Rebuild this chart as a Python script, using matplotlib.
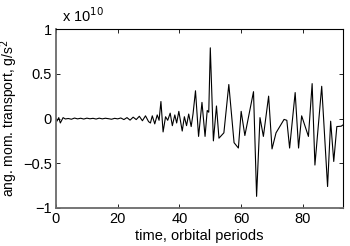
import matplotlib
matplotlib.use("Agg")
import matplotlib.pyplot as plt

# time in orbital periods
t = [0, 0.3, 0.9, 1.4, 2.3, 3, 4, 5, 6, 7, 8, 9, 10, 11, 12, 13, 14, 15, 16, 17,
     18, 19, 20, 21, 22, 23, 24, 25, 26, 27, 28, 29, 30, 30.6, 31.2, 32, 32.8,
     33.4, 34, 34.7, 35.5, 36.2, 37, 37.7, 38.5, 39.1, 39.8, 40.9, 41.6, 42.3,
     43, 43.8, 44.4, 45.2, 46.2, 47.3, 48.3, 49.0, 49.5, 50.0, 51.0, 52.0, 52.8,
     54.4, 56.0, 57.7, 59.1, 60.0, 61.2, 64.0, 65.0, 66.1, 67.2, 68.9, 70.0,
     71.3, 73.9, 74.8, 75.7, 77.5, 78.6, 79.6, 81.8, 83.0, 83.9, 86.1, 88.0,
     89.0, 90.0, 91.0, 92.4, 93.5]
# angular momentum transport, units of 1e10 g/s^2
amt = [0.0, -0.03, 0.01, -0.05, 0.01, -0.005, 0.0, -0.008, 0.005, -0.004, 0.003,
       -0.006, 0.004, -0.003, 0.002, -0.006, 0.004, -0.004, 0.003, -0.002,
       -0.008, 0.002, -0.004, 0.006, -0.012, 0.01, -0.018, 0.015, -0.012, 0.025,
       -0.025, 0.03, -0.035, -0.05, 0.03, -0.06, 0.04, -0.02, 0.19, -0.15, 0.02,
       -0.02, 0.06, -0.08, 0.04, -0.05, 0.08, -0.14, 0.02, -0.08, 0.05, -0.09,
       0.05, 0.31, -0.2, 0.18, -0.2, 0.09, 0.07, 0.79, -0.25, 0.14, -0.22,
       -0.16, 0.38, -0.27, -0.33, 0.08, -0.19, 0.30, -0.87, 0.01, -0.2, 0.25,
       -0.34, -0.16, -0.01, -0.02, -0.33, 0.29, -0.33, 0.03, -0.2, 0.39, -0.52,
       0.36, -0.76, -0.03, -0.48, -0.09, -0.086, -0.06]

xticks = [0, 20, 40, 60, 80]
yticks = [-1, -0.5, 0, 0.5, 1]
ylabels = ["\u22121", "\u22120.5", "0", "0.5", "1"]

plt.rcParams['font.family'] = ['Liberation Sans', 'DejaVu Sans']
fig = plt.figure(figsize=(3.5, 2.46), dpi=100)
ax = fig.add_axes([0.16, 0.1545, 0.82, 0.7275])
ax.plot(t, amt, color='black', lw=0.8)
ax.set_xlim(0, 93)
ax.set_ylim(-1, 1)
ax.set_xticks(xticks)
ax.set_yticks(yticks)
ax.set_yticklabels(ylabels)
ax.tick_params(direction='in', top=True, right=True, labelsize=10.5, length=3,
               width=0.6, pad=3)
for s in ['left', 'bottom']:
    ax.spines[s].set_color('#6a6a6a')
    ax.spines[s].set_linewidth(1.3)
for s in ['top', 'right']:
    ax.spines[s].set_color('black')
    ax.spines[s].set_linewidth(0.8)
ax.set_xlabel('time, orbital periods', fontsize=10.5, labelpad=2)
ax.set_ylabel('ang. mom. transport, g/s$^2$', fontsize=10)
ax.yaxis.set_label_coords(-0.125, 0.5)
ax.text(0.02, 1.025, 'x 10$^{10}$', transform=ax.transAxes, fontsize=10.5,
        ha='left', va='bottom')
fig.savefig('out.png', dpi=100)
